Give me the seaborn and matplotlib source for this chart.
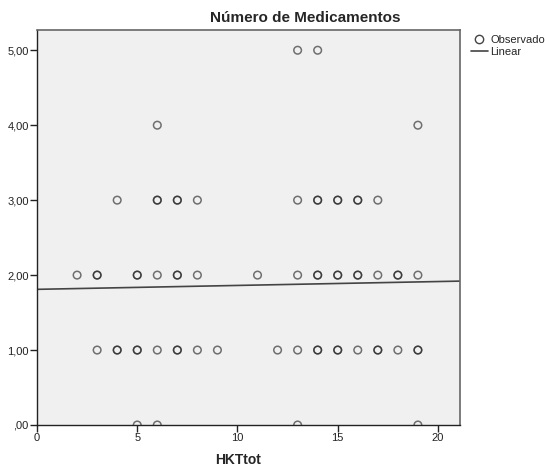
import numpy as np
import pandas as pd
import matplotlib
matplotlib.use("Agg")
import matplotlib.pyplot as plt
import seaborn as sns

# Observed points (duplicates for darker, overlapping markers)
x_vals = [13, 14,
          6, 19,
          4, 6, 6, 7, 7, 8, 13, 14, 14, 15, 15, 16, 16, 17,
          2, 3, 3, 5, 5, 6, 7, 7, 8, 11, 13, 14, 14, 15, 15, 16, 16, 17, 18, 18, 19,
          3, 4, 4, 5, 5, 6, 7, 7, 8, 9, 12, 13, 14, 14, 15, 15, 16, 17, 17, 18, 19, 19,
          5, 6, 13, 19]
y_vals = [5, 5,
          4, 4,
          3, 3, 3, 3, 3, 3, 3, 3, 3, 3, 3, 3, 3, 3,
          2, 2, 2, 2, 2, 2, 2, 2, 2, 2, 2, 2, 2, 2, 2, 2, 2, 2, 2, 2, 2,
          1, 1, 1, 1, 1, 1, 1, 1, 1, 1, 1, 1, 1, 1, 1, 1, 1, 1, 1, 1, 1, 1,
          0, 0, 0, 0]

# Linear fit
fit_intercept = 1.81
fit_slope = 0.0052
line_x = [0, 21.1]

x_ticks = [0, 5, 10, 15, 20]
y_ticks = [0, 1, 2, 3, 4, 5]
y_tick_labels = [",00", "1,00", "2,00", "3,00", "4,00", "5,00"]

sns.set_style("white")
plt.rcParams['font.family'] = ['Liberation Sans', 'DejaVu Sans']

fig = plt.figure(figsize=(5.45, 4.68), dpi=100)
ax = fig.add_axes([37/545, 1-425/468, (460-37)/545, (425-30)/468])
ax.set_facecolor("#f0f0f0")

df = pd.DataFrame({"x": x_vals, "y": y_vals})
sns.scatterplot(data=df, x="x", y="y", ax=ax, marker="o", s=30,
                facecolor="none", edgecolor=(0.1, 0.1, 0.1, 0.6), linewidth=1.1,
                legend=False, zorder=3)

line_df = pd.DataFrame({"x": line_x,
                        "y": [fit_intercept + fit_slope * v for v in line_x]})
sns.lineplot(data=line_df, x="x", y="y", ax=ax, color="#444444", linewidth=1.2, zorder=2)

ax.set_xlim(0, 21.1)
ax.set_ylim(0, 5.27)
ax.set_xticks(x_ticks)
ax.set_xticklabels([str(t) for t in x_ticks])
ax.set_yticks(y_ticks)
ax.set_yticklabels(y_tick_labels)
ax.tick_params(axis="both", direction="out", length=5, width=1, color="#222222",
               labelsize=8, colors="#222222", pad=1)
ax.tick_params(left=True, bottom=True)

for side in ["left", "bottom"]:
    ax.spines[side].set_color("#222222")
    ax.spines[side].set_linewidth(1)
for side in ["top", "right"]:
    ax.spines[side].set_color("#666666")
    ax.spines[side].set_linewidth(1.2)

ax.set_xlabel("")
ax.set_ylabel("")
fig.text(238/545, 1-460/468, "HKTtot", ha="center", va="center",
         fontsize=10, fontweight="bold")

fig.text(305/545, 1-18/468, "Número de Medicamentos", ha="center", va="center",
         fontsize=11, fontweight="bold")

# Legend
from matplotlib.lines import Line2D
handles = [Line2D([], [], marker="o", linestyle="none", markerfacecolor="none",
                  markeredgecolor="#444444", markersize=6, markeredgewidth=1),
           Line2D([], [], color="#444444", linewidth=1.2)]
fig.legend(handles, ["Observado", "Linear"], loc="upper left",
           bbox_to_anchor=(465/545, 1-29/468), frameon=False, fontsize=8,
           handlelength=1.6, handletextpad=0.2, labelspacing=0.25, borderpad=0)

fig.savefig("out.png", dpi=100)
